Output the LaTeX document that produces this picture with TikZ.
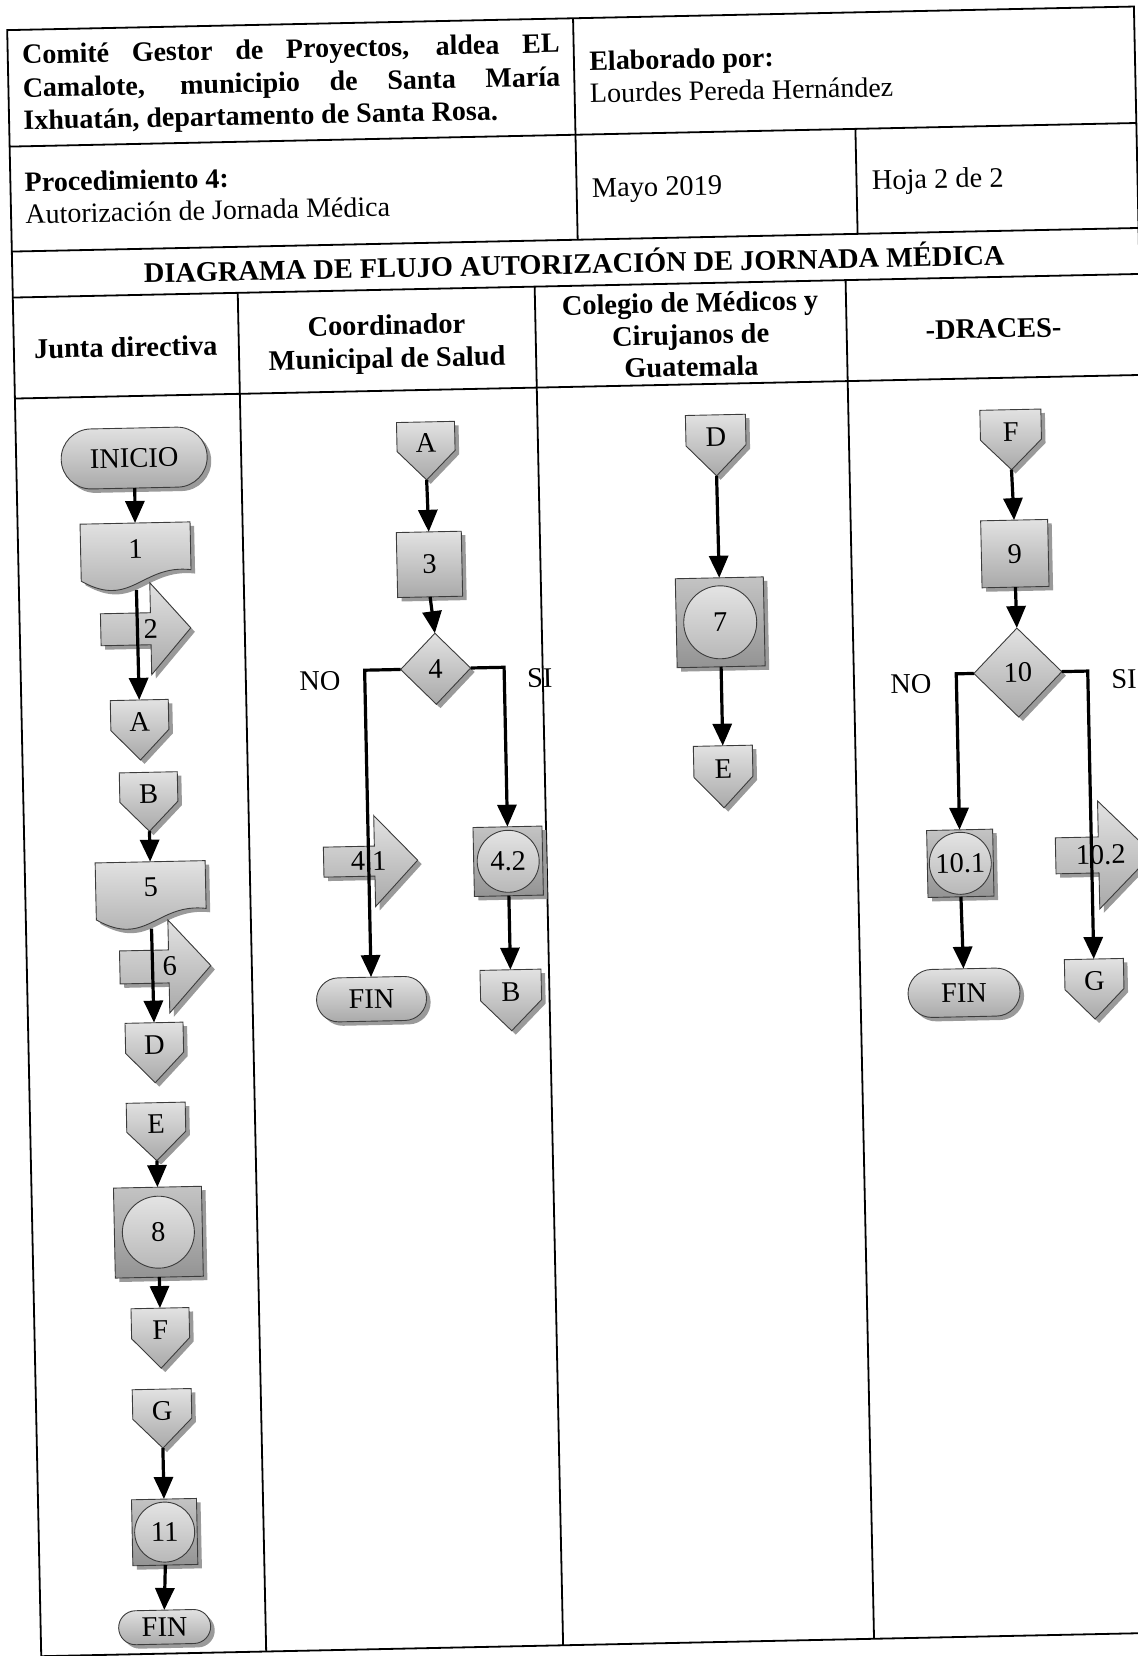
\documentclass[tikz,border=0pt]{standalone}
\usepackage{fontspec}
\setmainfont{Liberation Serif}
\usetikzlibrary{arrows.meta,calc}

\definecolor{fillhi}{HTML}{E2E2E2}
\definecolor{filllo}{HTML}{A9A9A9}
\definecolor{squarehi}{HTML}{C4C4C4}
\definecolor{squarelo}{HTML}{939393}
\definecolor{circhi}{HTML}{E4E4E4}
\definecolor{circlo}{HTML}{B8B8B8}
\definecolor{shadowgray}{HTML}{9A9A9A}
\definecolor{edgegray}{HTML}{3C3C3C}

\tikzset{
  tblrule/.style={line width=0.9pt},
  shp/.style={draw=edgegray, line width=0.45pt, top color=fillhi, bottom color=filllo},
  sqshp/.style={draw=edgegray, line width=0.45pt, top color=squarehi, bottom color=squarelo},
  circshp/.style={draw=edgegray, line width=0.45pt, top color=circhi, bottom color=circlo},
  castshadow/.style={fill=shadowgray},
  anchorbox/.style={inner sep=0pt, outer sep=0pt, draw=none},
  lbl/.style={inner sep=0pt},
  txt/.style={inner sep=0pt},
  hdrtxt/.style={inner sep=0pt, font=\fontsize{14}{16}\selectfont},
  conn/.style={line width=1.6pt, -{Triangle[width=9.5pt,length=11pt]}},
}

% all coordinates are in pixel-like units (0.5pt), y grows downwards
% terminal: name, cx, cy, w, h, text
\newcommand\Terminal[6]{%
  \pgfmathsetmacro\qL{#2-#4/2}\pgfmathsetmacro\qR{#2+#4/2}%
  \pgfmathsetmacro\qT{#3-#5/2}\pgfmathsetmacro\qB{#3+#5/2}%
  \pgfmathsetmacro\qRad{#5/4-0.02}%
  \fill[castshadow, rounded corners=\qRad pt] (\qL+4,\qT+4) rectangle (\qR+4,\qB+4);
  \shadedraw[shp, rounded corners=\qRad pt] (\qL,\qT) rectangle (\qR,\qB);
  \node[anchorbox, minimum width=#4*0.5pt, minimum height=#5*0.5pt] (#1) at (#2,#3) {#6};
}
% process box: name, cx, cy, w, h, text
\newcommand\Proc[6]{%
  \pgfmathsetmacro\qL{#2-#4/2}\pgfmathsetmacro\qR{#2+#4/2}%
  \pgfmathsetmacro\qT{#3-#5/2}\pgfmathsetmacro\qB{#3+#5/2}%
  \fill[castshadow] (\qL+4,\qT+4) rectangle (\qR+4,\qB+4);
  \shadedraw[shp] (\qL,\qT) rectangle (\qR,\qB);
  \node[anchorbox, minimum width=#4*0.5pt, minimum height=#5*0.5pt] (#1) at (#2,#3) {#6};
}
% off-page connector (pentagon pointing down): name, cx, cy, w, h, letter
\newcommand\Offpage[6]{%
  \pgfmathsetmacro\qL{#2-#4/2}\pgfmathsetmacro\qR{#2+#4/2}%
  \pgfmathsetmacro\qT{#3-#5/2}\pgfmathsetmacro\qB{#3+#5/2}%
  \fill[castshadow] (\qL+4,\qT+4) -- (\qR+4,\qT+4) -- (\qR+4,#3+4) -- (#2+4,\qB+4) -- (\qL+4,#3+4) -- cycle;
  \shadedraw[shp] (\qL,\qT) -- (\qR,\qT) -- (\qR,#3) -- (#2,\qB) -- (\qL,#3) -- cycle;
  \node[anchorbox, minimum width=#4*0.5pt, minimum height=#5*0.5pt] (#1) at (#2,#3) {};
  \node[lbl] (#1-t) at (#2,\qT+0.37*#5) {#6};
}
% document with wavy bottom: name, cx, cy, w, h, text
\newcommand\Docu[6]{%
  \pgfmathsetmacro\qL{#2-#4/2}\pgfmathsetmacro\qR{#2+#4/2}%
  \pgfmathsetmacro\qT{#3-#5/2}\pgfmathsetmacro\qH{#5/1.01}%
  \fill[castshadow] (\qL+4,\qT+4) -- (\qR+4,\qT+4) -- (\qR+4,\qT+0.72*\qH+4)
     .. controls (\qL+0.55*#4+4,\qT+0.62*\qH+4) and (\qL+0.45*#4+4,\qT+1.3*\qH+4) .. (\qL+4,\qT+0.86*\qH+4) -- cycle;
  \shadedraw[shp] (\qL,\qT) -- (\qR,\qT) -- (\qR,\qT+0.72*\qH)
     .. controls (\qL+0.55*#4,\qT+0.62*\qH) and (\qL+0.45*#4,\qT+1.3*\qH) .. (\qL,\qT+0.86*\qH) -- cycle;
  \node[anchorbox, minimum width=#4*0.5pt, minimum height=#5*0.5pt] (#1) at (#2,#3) {};
  \node[lbl] (#1-t) at (#2,\qT+0.38*#5) {#6};
}
% block arrow pointing right: name, cx, cy, w, h, body height, head length, label x, text
\newcommand\BlockArrow[9]{%
  \pgfmathsetmacro\qL{#2-#4/2}\pgfmathsetmacro\qR{#2+#4/2}%
  \pgfmathsetmacro\qM{#2+#4/2-#7}%
  \pgfmathsetmacro\qT{#3-#5/2}\pgfmathsetmacro\qB{#3+#5/2}%
  \pgfmathsetmacro\qU{#3-#6/2}\pgfmathsetmacro\qD{#3+#6/2}%
  \fill[castshadow] (\qL+4,\qU+4) -- (\qM+4,\qU+4) -- (\qM+4,\qT+4) -- (\qR+4,#3+4) -- (\qM+4,\qB+4) -- (\qM+4,\qD+4) -- (\qL+4,\qD+4) -- cycle;
  \shadedraw[shp] (\qL,\qU) -- (\qM,\qU) -- (\qM,\qT) -- (\qR,#3) -- (\qM,\qB) -- (\qM,\qD) -- (\qL,\qD) -- cycle;
  \node[anchorbox, minimum width=#4*0.5pt, minimum height=#5*0.5pt] (#1) at (#2,#3) {};
  \node[lbl] (#1-t) at (#8,#3) {#9};
}
% decision diamond: name, cx, cy, w, h, text
\newcommand\Decision[6]{%
  \pgfmathsetmacro\qL{#2-#4/2}\pgfmathsetmacro\qR{#2+#4/2}%
  \pgfmathsetmacro\qT{#3-#5/2}\pgfmathsetmacro\qB{#3+#5/2}%
  \fill[castshadow] (#2+4,\qT+4) -- (\qR+4,#3+4) -- (#2+4,\qB+4) -- (\qL+4,#3+4) -- cycle;
  \shadedraw[shp] (#2,\qT) -- (\qR,#3) -- (#2,\qB) -- (\qL,#3) -- cycle;
  \node[anchorbox, minimum width=#4*0.5pt, minimum height=#5*0.5pt] (#1) at (#2,#3) {#6};
}
% square holding a circle: name, cx, cy, w, h, circle diameter, text
\newcommand\CircBox[7]{%
  \pgfmathsetmacro\qL{#2-#4/2}\pgfmathsetmacro\qR{#2+#4/2}%
  \pgfmathsetmacro\qT{#3-#5/2}\pgfmathsetmacro\qB{#3+#5/2}%
  \pgfmathsetmacro\qRad{#6/4}%
  \fill[castshadow] (\qL+4,\qT+4) rectangle (\qR+4,\qB+4);
  \shadedraw[sqshp] (\qL,\qT) rectangle (\qR,\qB);
  \shadedraw[circshp] (#2,#3) circle[radius=\qRad pt];
  \node[anchorbox, minimum width=#4*0.5pt, minimum height=#5*0.5pt] (#1) at (#2,#3) {#7};
}

\begin{document}
\begin{tikzpicture}[x=0.5pt, y=-0.5pt, font=\fontsize{14.2}{16.25}\selectfont]
\useasboundingbox (0,0) rectangle (1138,1656);
\clip (0,0) rectangle (1138,1656);
\begin{scope}[rotate around={1.2:(569,828)}, transform shape]

% ---------- table frame ----------
\draw[tblrule] (24,18.5) rectangle (1151,1645);
\draw[tblrule] (24,135) -- (1151,135);
\draw[tblrule] (24,240) -- (1151,240);
\draw[tblrule] (24,286) -- (1151,286);
\draw[tblrule] (24,387) -- (1151,387);
\draw[tblrule] (590,18.5) -- (590,240);
\draw[tblrule] (870,135) -- (870,240);
\draw[tblrule] (249,286) -- (249,1645);
\draw[tblrule] (546,286) -- (546,1645);
\draw[tblrule] (857,286) -- (857,1645);

% ---------- header texts ----------
\node[hdrtxt, anchor=base west] (hdrA) at (38,52.5) {\bfseries\makebox[268.75pt][s]{Comité Gestor de Proyectos, aldea EL}};
\node[hdrtxt, anchor=base west] (hdrB) at (38,86) {\bfseries\makebox[268.75pt][s]{Camalote, municipio de Santa María}};
\node[hdrtxt, anchor=base west] (hdrC) at (38,118.5) {\bfseries Ixhuatán, departamento de Santa Rosa.};
\node[hdrtxt, anchor=base west] (elab) at (605,71) {\bfseries Elaborado por:};
\node[hdrtxt, anchor=base west] (autor) at (605,103.5) {Lourdes Pereda Hernández};
\node[hdrtxt, anchor=base west] (procA) at (38,180.5) {\bfseries Procedimiento 4:};
\node[hdrtxt, anchor=base west] (procB) at (38,212.5) {Autorización de Jornada Médica};
\node[txt, anchor=base west] (fecha) at (605,198) {Mayo 2019};
\node[txt, anchor=base west] (hoja) at (885,196) {Hoja 2 de 2};
\node[txt, anchor=base] (titulo) at (586,274) {\bfseries DIAGRAMA DE FLUJO AUTORIZACIÓN DE JORNADA MÉDICA};

% ---------- lane headers ----------
\node[txt, anchor=base] (laneA) at (136,347.5) {\bfseries Junta directiva};
\node[txt, anchor=base] (laneBa) at (397,331) {\bfseries Coordinador};
\node[txt, anchor=base] (laneBb) at (397,364) {\bfseries Municipal de Salud};
\node[txt, anchor=base] (laneCa) at (701,315) {\bfseries Colegio de Médicos y};
\node[txt, anchor=base] (laneCb) at (701,347) {\bfseries Cirujanos de};
\node[txt, anchor=base] (laneCc) at (701,379) {\bfseries Guatemala};
\node[txt, anchor=base] (laneD) at (1004,347) {\bfseries -DRACES-};

% ---------- lane 1: Junta directiva ----------
\Terminal{inicio}{142}{449}{146}{60}{INICIO}
\Docu{doc1}{141.5}{547.5}{110}{67}{1}
\BlockArrow{act2}{150}{620}{90}{92}{32}{40}{155}{2}
\Offpage{conA1}{142}{721}{58}{60}{A}
\Offpage{conB1}{149.5}{793}{58}{59}{B}
\Docu{doc5}{149.5}{886.5}{110}{67}{5}
\BlockArrow{act6}{162.5}{958}{91}{93}{33}{42}{167}{6}
\Offpage{conD1}{150}{1044}{58}{60}{D}
\Offpage{conE1}{150}{1123}{59}{58}{E}
\CircBox{op8}{150}{1223.5}{88}{90}{72}{8}
\Offpage{conF1}{150}{1329.5}{58}{60}{F}
\Offpage{conG1}{150}{1410}{59}{59}{G}
\CircBox{op11}{150}{1523.5}{65}{66}{60}{11}
\Terminal{fin1}{148}{1618.5}{92}{34}{FIN}

% ---------- lane 2: Coordinador Municipal de Salud ----------
\Offpage{conA2}{434}{448}{58}{58}{A}
\Proc{act3}{435}{561.5}{65}{65}{3}
\Decision{dec4}{439}{666}{70}{71}{4}
\BlockArrow{act41}{370}{857}{94}{91}{30}{43}{368}{4.1}
\CircBox{op42}{507.5}{860}{69}{69}{62}{4.2}
\Terminal{fin2}{368}{995}{110}{44}{FIN}
\Offpage{conB2}{507.5}{999}{61}{61}{B}
\node[txt] (noA) at (323,676) {NO};
\node[txt] (siA) at (543,677.5) {SI};

% ---------- lane 3: Colegio de Médicos y Cirujanos ----------
\Offpage{conD3}{724}{448.5}{60}{61}{D}
\CircBox{op7}{724.5}{625.5}{88}{89}{73}{7}
\Offpage{conE3}{724.5}{780}{59}{62}{E}

% ---------- lane 4: DRACES ----------
\Offpage{conF4}{1019}{449}{61}{60}{F}
\Proc{act9}{1020.5}{563}{67}{67}{9}
\Decision{dec10}{1021}{682}{88}{89}{10}
\CircBox{op101}{959.5}{871.5}{66}{67}{62}{10.1}
\BlockArrow{act102}{1103.5}{866}{97}{108}{36}{54}{1100}{10.2}
\Terminal{fin4}{960.5}{1001}{112}{48}{FIN}
\Offpage{conG4}{1091}{1000}{59}{60}{G}
\node[txt] (noB) at (914,691) {NO};
\node[txt] (siB) at (1127,690.5) {SI};

% ---------- connectors ----------
\draw[conn] (inicio.south) -- (doc1.north);
\draw[conn] (doc1.south) -- (conA1.north);
\draw[conn] (conB1.south) -- (doc5.north);
\draw[conn] (doc5.south) -- (conD1.north);
\draw[conn] (conE1.south) -- (op8.north);
\draw[conn] (op8.south) -- (conF1.north);
\draw[conn] (conG1.south) -- (op11.north);
\draw[conn] (op11.south) -- (fin1.north);

\draw[conn] (conA2.south) -- (act3.north);
\draw[conn] (act3.south) -- (dec4.north);
\draw[conn] (dec4.west) -| (fin2.north);
\draw[conn] (dec4.east) -| (op42.north);
\draw[conn] (op42.south) -- (conB2.north);

\draw[conn] (conD3.south) -- (op7.north);
\draw[conn] (op7.south) -- (conE3.north);

\draw[conn] (conF4.south) -- (act9.north);
\draw[conn] (act9.south) -- (dec10.north);
\draw[conn] (dec10.west) -| (op101.north);
\draw[conn] (dec10.east) -| (conG4.north);
\draw[conn] (op101.south) -- (fin4.north);

\end{scope}
\end{tikzpicture}
\end{document}
